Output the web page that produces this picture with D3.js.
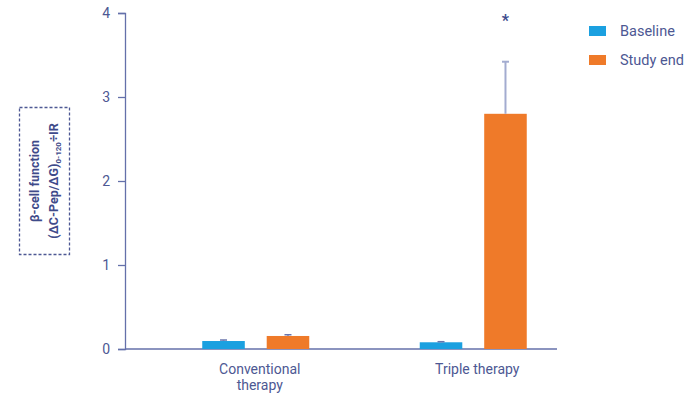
<!DOCTYPE html>
<html><head><meta charset="utf-8">
<script src="https://cdn.jsdelivr.net/npm/d3@7"></script>
<style>body{margin:0;background:#fff}svg{display:block;font-family:Roboto,"Noto Sans",sans-serif}</style>
</head><body><svg id="c" width="689" height="395"></svg>
<script>
// Data
const categories = ["Conventional therapy", "Triple therapy"];
const seriesNames = ["Baseline", "Study end"];
const baselineValues = [0.095, 0.08];
const studyEndValues = [0.155, 2.8];
const baselineErrors = [0.012, 0.007];
const studyEndErrors = [0.015, 0.62];
const yTicks = [0, 1, 2, 3, 4];
const significance = ["", "*"];

const colors = {"Baseline": "#1ba0e0", "Study end": "#ef7a29"};
const axisColor = "#6470aa";
const textColor = "#4d5893";
const errColor = "#a3acd0";

const svg = d3.select("#c");
const y = d3.scaleLinear().domain([0, 4]).range([349, 13]);
const x = d3.scaleBand().domain(categories).range([147, 582]).padding(0);
const xs = d3.scaleBand().domain(seriesNames).range([-53.5, 53.5]).paddingInner(0.34);

// y axis
const yAxis = svg.append("g").attr("transform", "translate(125,0)")
  .call(d3.axisLeft(y).tickValues(yTicks).tickSize(7).tickPadding(8).tickFormat(d3.format("d")));
yAxis.select(".domain").attr("stroke", axisColor).attr("stroke-width", 1.3);
yAxis.selectAll(".tick line").attr("stroke", axisColor).attr("stroke-width", 1.3);
yAxis.selectAll(".tick text").attr("fill", textColor).attr("font-size", 14).attr("font-family", "Roboto");

// x axis line
svg.append("line").attr("x1", 125).attr("x2", 557).attr("y1", y(0)).attr("y2", y(0))
  .attr("stroke", axisColor).attr("stroke-width", 1.3);

// bars
const rows = [];
categories.forEach((c, i) => {
  rows.push({cat: c, s: "Baseline", v: baselineValues[i], e: baselineErrors[i]});
  rows.push({cat: c, s: "Study end", v: studyEndValues[i], e: studyEndErrors[i]});
});
const cx = d => x(d.cat) + x.bandwidth() / 2 + xs(d.s);
svg.append("g").selectAll("rect").data(rows).join("rect")
  .attr("x", cx).attr("width", xs.bandwidth())
  .attr("y", d => y(d.v)).attr("height", d => y(0) - y(d.v))
  .attr("fill", d => colors[d.s]);

// error bars
const eg = svg.append("g").attr("stroke", errColor).attr("stroke-width", 2);
rows.forEach(d => {
  const mx = cx(d) + xs.bandwidth() / 2;
  const small = d.e < 0.05;
  eg.append("line").attr("x1", mx).attr("x2", mx).attr("y1", y(d.v)).attr("y2", y(d.v + d.e));
  eg.append("line").attr("x1", mx - 3.5).attr("x2", mx + 3.5).attr("y1", y(d.v + d.e)).attr("y2", y(d.v + d.e))
    .attr("stroke", small ? "#6a75ac" : errColor).attr("stroke-width", small ? 1.5 : 2);
});

// significance marks
categories.forEach((c, i) => {
  if (!significance[i]) return;
  const mx = x(c) + x.bandwidth() / 2 + xs("Study end") + xs.bandwidth() / 2;
  svg.append("text").attr("x", mx).attr("y", 26).attr("text-anchor", "middle")
    .attr("font-size", 16).attr("font-weight", "bold").attr("fill", "#3c4a8c").text(significance[i]);
});

// category labels
const catLines = {"Conventional therapy": ["Conventional", "therapy"], "Triple therapy": ["Triple therapy"]};
categories.forEach(c => {
  const t = svg.append("text").attr("x", x(c) + x.bandwidth() / 2 + 4).attr("y", 374)
    .attr("text-anchor", "middle").attr("font-size", 14).attr("fill", textColor);
  catLines[c].forEach((l, k) => t.append("tspan").attr("x", x(c) + x.bandwidth() / 2 + 4).attr("dy", k ? 16 : 0).text(l));
});

// legend
seriesNames.forEach((s, i) => {
  const g = svg.append("g").attr("transform", `translate(589,${26 + i * 29})`);
  g.append("rect").attr("width", 17).attr("height", 10).attr("fill", colors[s]);
  g.append("text").attr("x", 31).attr("y", 10).attr("font-size", 14.5).attr("fill", textColor).text(s);
});

// y title in dashed box
svg.append("rect").attr("x", 19.5).attr("y", 107.5).attr("width", 50).attr("height", 147)
  .attr("fill", "none").attr("stroke", "#4d5893").attr("stroke-width", 1.3).attr("stroke-dasharray", "3,2");
const yt = svg.append("text").attr("transform", "translate(0,181) rotate(-90)")
  .attr("text-anchor", "middle").attr("font-size", 12.5).attr("font-weight", "bold").attr("fill", "#3f4b8a");
yt.append("tspan").attr("x", 0).attr("y", 39).text("β-cell function");
const l2 = svg.append("text").attr("transform", "translate(0,181) rotate(-90)")
  .attr("text-anchor", "middle").attr("font-size", 12.5).attr("font-weight", "bold").attr("fill", "#3f4b8a");
l2.append("tspan").attr("x", 0).attr("y", 58).text("(ΔC-Pep/ΔG)");
l2.append("tspan").attr("font-size", 8).attr("dy", 3).text("0-120");
l2.append("tspan").attr("font-size", 12.5).attr("dy", -3).text("÷IR");
</script></body></html>
